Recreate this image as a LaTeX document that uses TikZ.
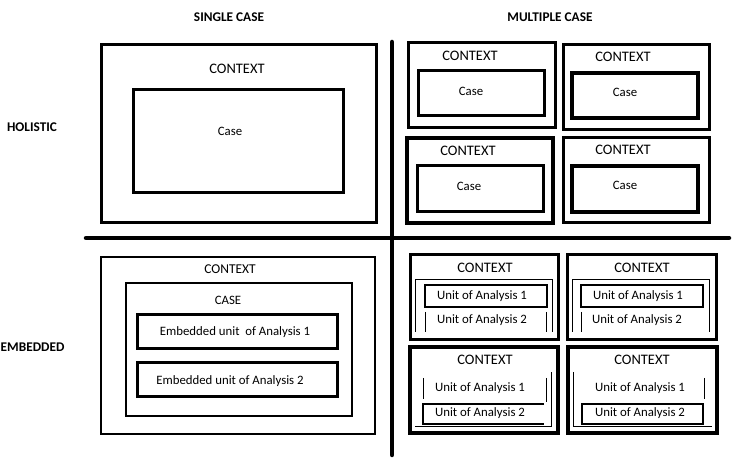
\documentclass[tikz,border=0pt]{standalone}
\usepackage{fontspec}
\setmainfont{Carlito}
\usepackage{tikz}
\usetikzlibrary{positioning}

\tikzset{
  box/.style={draw, line width=3pt, inner sep=0pt},
  unitbox/.style={draw, line width=1.2pt, inner sep=0pt, minimum width=122pt, minimum height=22pt},
  thinline/.style={line width=1pt},
  divider/.style={line width=4.5pt, line cap=round},
  heading/.style={font=\bfseries\fontsize{13.3}{15}\selectfont},
  ctxtext/.style={font=\fontsize{14.5}{16}\selectfont},
  boxtext/.style={font=\fontsize{12.8}{14}\selectfont}
}

\begin{document}
\begin{tikzpicture}[x=1pt, y=-1pt]
    \useasboundingbox (0,0) rectangle (732,462);

    % dividers
    \draw[divider] (392,42) -- (392,455);
    \draw[divider] (86,238) -- (729,238);

    % headings
    \node[heading] (single) at (229,17) {SINGLE CASE};
    \node[heading] (multiple) at (550,17) {MULTIPLE CASE};
    \node[heading] (holistic) at (32,127) {HOLISTIC};
    \node[heading, anchor=west, inner xsep=0pt] (embedded) at (0.5,347) {EMBEDDED};

    % single case, holistic
    \node[box, minimum width=275pt, minimum height=178pt] (shctx) at (238.5,134) {};
    \node[box, minimum width=210pt, minimum height=103pt] (shcase) at (238,141.5) {};
    \node[ctxtext] (shctxlabel) at (237,69) {CONTEXT};
    \node[boxtext] (shcaselabel) at (230,131) {Case};

    % multiple case, holistic
    \node[box, minimum width=147pt, minimum height=85pt] (mh1ctx) at (481.5,85.5) {};
    \node[box, minimum width=126pt, minimum height=45pt] (mh1case) at (481,93.5) {};
    \node[ctxtext] (mh1ctxlabel) at (470,56) {CONTEXT};
    \node[boxtext] (mh1caselabel) at (471,91) {Case};

    \node[box, minimum width=146pt, minimum height=85pt] (mh2ctx) at (636,87.5) {};
    \node[box, line width=4pt, minimum width=126pt, minimum height=45pt] (mh2case) at (635,95.5) {};
    \node[ctxtext] (mh2ctxlabel) at (623,57) {CONTEXT};
    \node[boxtext] (mh2caselabel) at (625,92) {Case};

    \node[box, line width=4pt, minimum width=146pt, minimum height=85pt] (mh3ctx) at (480,180.5) {};
    \node[box, minimum width=126pt, minimum height=46pt] (mh3case) at (480,189) {};
    \node[ctxtext] (mh3ctxlabel) at (468,151) {CONTEXT};
    \node[boxtext] (mh3caselabel) at (469,186) {Case};

    \node[box, minimum width=146pt, minimum height=85pt] (mh4ctx) at (636,180.5) {};
    \node[box, line width=3.5pt, minimum width=126pt, minimum height=46pt] (mh4case) at (635,189) {};
    \node[ctxtext] (mh4ctxlabel) at (623,150) {CONTEXT};
    \node[boxtext] (mh4caselabel) at (625,185) {Case};

    % single case, embedded
    \node[box, line width=2.5pt, minimum width=274pt, minimum height=177pt] (sectx) at (238,345.5) {};
    \node[box, line width=2.5pt, minimum width=226pt, minimum height=133pt] (secase) at (239,349.5) {};
    \node[box, minimum width=200pt, minimum height=34pt] (seunit1) at (237,332) {};
    \node[box, minimum width=200pt, minimum height=34pt] (seunit2) at (237,380) {};
    \node[font=\fontsize{13.5}{15}\selectfont] (sectxlabel) at (230,269) {CONTEXT};
    \node[boxtext] (secaselabel) at (228,300) {CASE};
    \node[boxtext] (seunit1label) at (235,332) {Embedded unit\ \ of Analysis 1};
    \node[boxtext] (seunit2label) at (230,381) {Embedded unit of Analysis 2};

    % multiple case, embedded (top left)
    \node[box, minimum width=148pt, minimum height=85pt] (me1ctx) at (484,297.5) {};
    \node[ctxtext] (me1ctxlabel) at (485,268) {CONTEXT};
    \draw[thinline] (415,332) -- (415,280) -- (552,280) -- (552,332);
    \node[unitbox] (me1unit1) at (486,296) {};
    \node[boxtext] (me1unit1label) at (482,296) {Unit of Analysis 1};
    \draw[thinline] (425,312) -- (425,332) (546,312) -- (546,332);
    \node[boxtext] (me1unit2label) at (482,320) {Unit of Analysis 2};

    % multiple case, embedded (top right)
    \node[box, minimum width=149pt, minimum height=85pt] (me2ctx) at (641.5,297.5) {};
    \node[ctxtext] (me2ctxlabel) at (642,268) {CONTEXT};
    \draw[thinline] (572,332) -- (572,280) -- (709,280) -- (709,332);
    \node[unitbox] (me2unit1) at (642,296) {};
    \node[boxtext] (me2unit1label) at (638,296) {Unit of Analysis 1};
    \draw[thinline] (581,312) -- (581,332);
    \node[boxtext] (me2unit2label) at (637,320) {Unit of Analysis 2};

    % multiple case, embedded (bottom left)
    \node[box, line width=4pt, minimum width=148pt, minimum height=86pt] (me3ctx) at (484,390) {};
    \node[ctxtext] (me3ctxlabel) at (485,360) {CONTEXT};
    \draw[thinline] (415,427) -- (551,427) -- (551,372);
    \draw[thinline] (423,378) -- (423,399) (546,378) -- (546,402);
    \draw[line width=1.2pt] (544,404) -- (423,404) -- (423,424) -- (544,424);
    \node[boxtext] (me3unit1label) at (480,388) {Unit of Analysis 1};
    \node[boxtext] (me3unit2label) at (480,413) {Unit of Analysis 2};

    % multiple case, embedded (bottom right)
    \node[box, line width=3.5pt, minimum width=149pt, minimum height=86pt] (me4ctx) at (642.5,390) {};
    \node[ctxtext] (me4ctxlabel) at (642,360) {CONTEXT};
    \draw[thinline] (573,372) -- (573,427) -- (712,427);
    \draw[thinline] (704,378) -- (704,399);
    \node[unitbox, minimum width=121pt, minimum height=20pt] (me4unit2) at (642.5,414) {};
    \node[boxtext] (me4unit1label) at (640,388) {Unit of Analysis 1};
    \node[boxtext] (me4unit2label) at (640,413) {Unit of Analysis 2};
\end{tikzpicture}
\end{document}
